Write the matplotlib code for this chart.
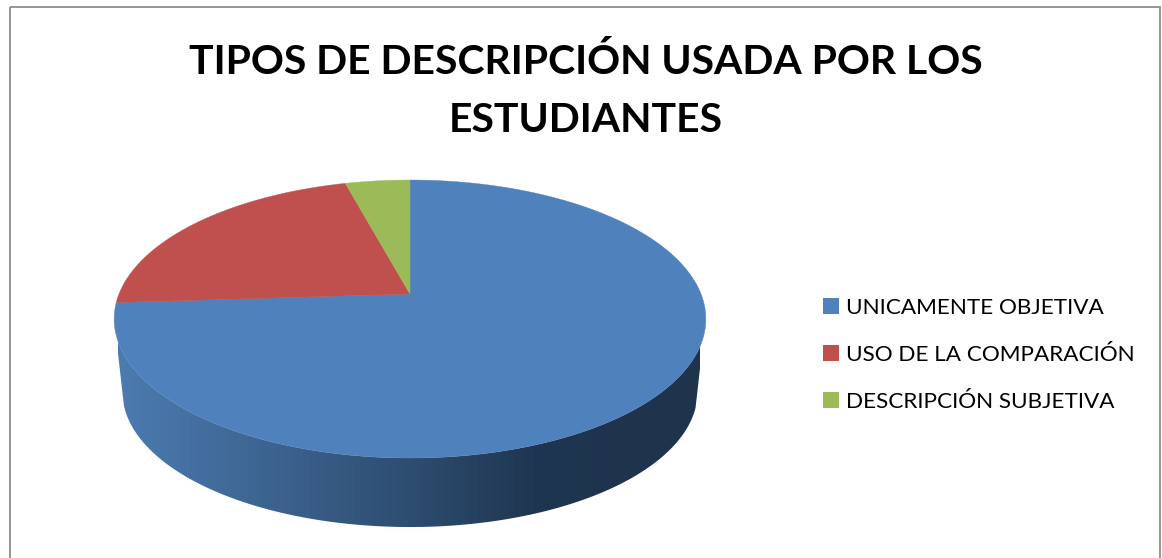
import numpy as np
import matplotlib
matplotlib.use('Agg')
import matplotlib.pyplot as plt
from matplotlib.colors import LinearSegmentedColormap
from matplotlib.patches import Patch, Polygon, Rectangle

title_lines = ['TIPOS DE DESCRIPCIÓN USADA POR LOS', 'ESTUDIANTES']
categories = ['UNICAMENTE OBJETIVA', 'USO DE LA COMPARACIÓN', 'DESCRIPCIÓN SUBJETIVA']
values = [74.0, 21.8, 4.2]
colors = ['#4f81bd', '#c0504d', '#9bbb59']
side_stops = [(0.0, '#4c7bb0'), (0.22, '#3f6795'), (0.48, '#2f4f73'), (0.72, '#1f3650'), (1.0, '#1e334c')]

plt.rcParams['font.family'] = ['Lato', 'DejaVu Sans']

fig = plt.figure(figsize=(11.62, 5.58), dpi=100)
ax = fig.add_axes([0, 0, 1, 1])


# perspective view of the flat disc, x and y are in pixels of the picture
def project(theta, scale=1.0, y0=294.0):
    k = 0.18
    u, v = np.cos(theta), np.sin(theta)
    w = 1 + k * v
    return 410 + 291 * scale * u / w, y0 - 134.5 * scale * v / w


# side of the pie, only the front part can be seen
theta = np.radians(np.linspace(-17, -164, 200))
x_top, y_top = project(theta)
x_low, y_low = project(theta, scale=0.972, y0=367.6)
side_xy = np.column_stack([np.r_[x_top, x_low[::-1]], np.r_[y_top, y_low[::-1]]])
side = Polygon(side_xy, closed=True, facecolor='none', edgecolor='none')
ax.add_patch(side)
side_cmap = LinearSegmentedColormap.from_list('side', side_stops)
img = ax.imshow(np.linspace(0, 1, 400).reshape(1, -1), cmap=side_cmap, aspect='auto',
                extent=(118, 700, 540, 320), interpolation='bilinear')
img.set_clip_path(side)

# top of the pie, slices go clockwise from 12 o'clock
fractions = np.cumsum([0] + values) / sum(values)
for i in range(len(values)):
    ang = np.pi / 2 - 2 * np.pi * np.linspace(fractions[i], fractions[i + 1], 300)
    xs, ys = project(ang)
    ax.fill(np.r_[410, xs], np.r_[294, ys], color=colors[i], lw=0.3)

ax.set_xlim(0, 1162)
ax.set_ylim(558, 0)
ax.axis('off')

# chart border, the bottom edge is cut off
ax.add_patch(Rectangle((9.5, 6.5), 1150.5, 600, fill=False, edgecolor='#8e8e8e', lw=1.3))

ax.text(586, 74, title_lines[0], ha='center', va='baseline', fontsize=29.4, fontweight='bold', color='black')
ax.text(586, 132, title_lines[1], ha='center', va='baseline', fontsize=29.4, fontweight='bold', color='black')

handles = [Patch(facecolor=c, edgecolor='none') for c in colors]
ax.legend(handles, categories, loc='upper left', bbox_to_anchor=(812 / 1162, 1 - 287 / 558),
          frameon=False, fontsize=16.2, handlelength=0.72, handleheight=0.72,
          handletextpad=0.28, labelspacing=1.2, borderpad=0, borderaxespad=0.5)

fig.savefig('out.png', dpi=100)
